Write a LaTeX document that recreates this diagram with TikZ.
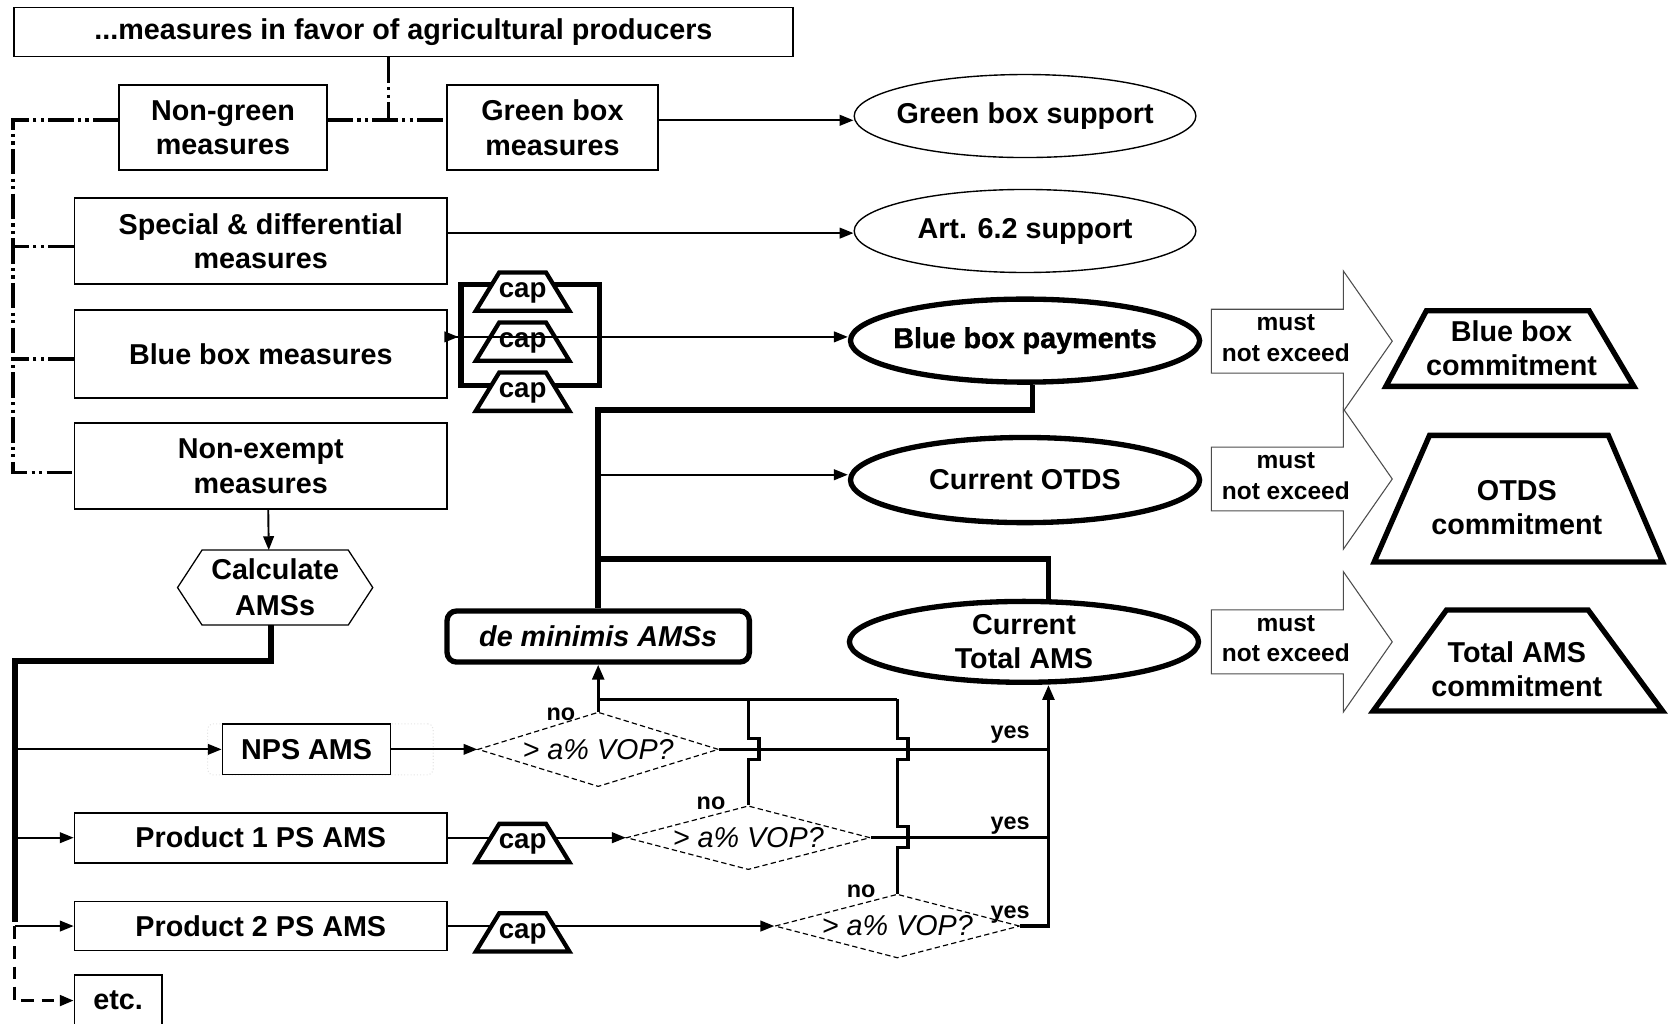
\documentclass[tikz,border=0pt]{standalone}
\usepackage{fontspec}
\setmainfont{Liberation Sans}
\newfontfamily\heavyfont{Liberation Sans}[BoldFeatures={FakeBold=1.3}]
\usetikzlibrary{shapes.geometric,arrows.meta,calc,backgrounds}
\newcommand{\fbig}{\fontsize{27pt}{32pt}\selectfont}
\newcommand{\fmid}{\fontsize{23pt}{29pt}\selectfont}
\newcommand{\fsml}{\fontsize{22pt}{26pt}\selectfont}
\newcommand{\capnode}[3]{%
  \filldraw[capline] (#2-44,#3+18) -- (#2-22,#3-18) -- (#2+22,#3-18) -- (#2+44,#3+18) -- cycle;
  \node[capbox] (#1) at (#2,#3+1) {cap};}
\begin{document}
\begin{tikzpicture}[x=1pt,y=-1pt,
  box/.style={draw, line width=1.6pt, align=center, font=\bfseries\fbig, inner sep=0pt},
  oval/.style={ellipse, draw, line width=1.3pt, align=center, font=\bfseries\fbig, inner xsep=-20pt, inner ysep=-8pt},
  boldoval/.style={oval, line width=5pt},
  capline/.style={draw, fill=white, line width=4pt, line join=miter},
  capbox/.style={rectangle, minimum width=88pt, minimum height=36pt, inner sep=0pt, font=\bfseries\fontsize{26pt}{26pt}\selectfont},
  dia/.style={diamond, draw, dash pattern=on 5pt off 3pt, line width=1.1pt, aspect=3.6, inner sep=0pt, font=\itshape\fbig},
  arr/.style={line width=1.8pt, -{Triangle[length=13pt,width=10pt]}},
  med/.style={line width=3pt},
  medarr/.style={med, -{Triangle[length=14pt,width=11pt]}},
  heavy/.style={line width=5.5pt},
  ddd/.style={line width=3.5pt, dash pattern=on 24pt off 4pt on 3pt off 4pt on 3pt off 4pt},
  lbl/.style={font=\bfseries\fsml, inner sep=0pt},
  blk/.style={draw=black!70, line width=1pt},
  commit/.style={draw, line width=5pt},
  ctext/.style={font=\bfseries\fbig, align=center, inner sep=0pt},
  mne/.pic={\draw[blk] (-62,-30) -- (62,-30) -- (62,-66) -- (108,0) -- (62,66) -- (62,30) -- (-62,30) -- cycle;
            \node[font=\bfseries\fmid, align=center, inner sep=0pt] (-t) at (8,-3) {must\\not exceed};}
]
\useasboundingbox (0,0) rectangle (1568,962);

% ---------- top part ----------
\node[box, minimum width=732pt, minimum height=46pt] (top) at (379,30) {...measures in favor of agricultural producers};
\node[box, minimum width=195pt, minimum height=80pt] (ng) at (209.5,120) {Non-green\\measures};
\node[box, minimum width=198pt, minimum height=80pt] (gb) at (519,120) {Green box\\measures};
\node[box, minimum width=350pt, minimum height=81pt] (sd) at (245,226.5) {Special \& differential\\measures};
\node[box, minimum width=350pt, minimum height=83pt] (bb) at (245,332.5) {Blue box measures};
\node[box, minimum width=350pt, minimum height=81pt] (ne) at (245,438) {Non-exempt\\measures};

\node[oval, minimum width=321pt, minimum height=78pt] (gbs) at (963,109) {Green box support};
\node[oval, minimum width=321pt, minimum height=78pt] (art) at (963,217) {Art. 6.2 support};
\node[boldoval, minimum width=328pt, minimum height=78pt, font=\heavyfont\bfseries\fbig] (bbp) at (963,320) {Blue box payments};
\node[boldoval, minimum width=328pt, minimum height=80pt] (otds) at (963,451) {Current OTDS};
\node[boldoval, minimum width=328pt, minimum height=76pt] (ctams) at (962,603) {Current\\Total AMS};

\node[box, line width=5pt, rounded corners=9pt, minimum width=284pt, minimum height=48pt, font=\bfseries\itshape\fbig] (dm) at (562,598) {de minimis AMSs};

% hexagon
\node[ctext, minimum width=183pt, minimum height=70pt, font=\bfseries\fontsize{27pt}{34pt}\selectfont] (hex) at (258.5,552) {Calculate\\AMSs};
\draw[line width=1.2pt] (hex.west) -- ([xshift=23pt]hex.north west) -- ([xshift=-23pt]hex.north east) -- (hex.east) -- ([xshift=-23pt]hex.south east) -- ([xshift=23pt]hex.south west) -- cycle;

% cap frame and caps
\node[draw, line width=5pt, minimum width=130pt, minimum height=95pt, inner sep=0pt] (cf) at (498,314.5) {};
\capnode{c1}{491}{274}
\capnode{c2}{491}{321}
\capnode{c3}{491}{368}

% dash-dot-dot tree
\coordinate (jn) at (365,113);
\coordinate (lb) at (12,444);
\draw[ddd] (top.south -| jn) -- (jn);
\draw[ddd] ([yshift=7pt]ng.east) -- ([yshift=7pt]gb.west);
\draw[ddd] ([yshift=7pt]ng.west) -| (lb) -- ([yshift=-6pt]ne.west);
\draw[ddd] ([yshift=-5pt]sd.west) -- ++(-58,0);
\draw[ddd] ([yshift=-5pt]bb.west) -- ++(-58,0);

% arrows to ovals
\coordinate (ge) at ([yshift=7pt]gb.east);
\draw[arr] (ge) -- (ge -| gbs.west);
\coordinate (se) at ([yshift=7.5pt]sd.east);
\draw[arr] (se) -- (se -| art.west);
\coordinate (be) at ([yshift=16pt]bb.east);
\draw[arr] (be) -- (be -| bbp.west);
\draw[arr] (be) -- (be -| cf.west);

% heavy connectors
\coordinate (bs) at ([xshift=7pt]bbp.south);
\draw[heavy] (bs) -- ++(0,24) -| (dm.north);
\coordinate (ow) at ([yshift=5pt]otds.west);
\draw[arr] (dm.north |- ow) -- (ow);
\coordinate (hj) at ([yshift=46pt]dm.north);
\coordinate (ct) at ([xshift=23pt]ctams.north);
\coordinate (cb) at ([xshift=23pt]ctams.south);
\draw[heavy] (hj) -| (ct);

% ---------- bottom part ----------
\draw[arr] ([xshift=7pt]ne.south) -- ([xshift=-6pt]hex.north);

\node[draw=black!10, dotted, rounded corners=5pt, line width=1pt, minimum width=212pt, minimum height=48pt] (npsg) at (301,704) {};
\node[box, fill=white, minimum width=158pt, minimum height=47pt] (nps) at (288,704) {NPS AMS};
\node[box, minimum width=350pt, minimum height=47pt] (p1) at (245,787) {Product 1 PS AMS};
\node[box, minimum width=350pt, minimum height=46pt] (p2) at (245,870) {Product 2 PS AMS};
\node[box, minimum width=82pt, minimum height=48pt] (etc) at (111,940) {etc.};

\node[dia, minimum width=226pt, minimum height=70pt] (d1) at (562,704) {> a\% VOP?};
\node[dia, minimum width=229pt, minimum height=60pt] (d2) at (703,787) {> a\% VOP?};
\node[dia, minimum width=230pt, minimum height=60pt] (d3) at (843,870) {> a\% VOP?};

\capnode{c4}{491}{792}
\capnode{c5}{491}{876}

\begin{pgfonlayer}{background}
\draw[line width=1.8pt] (p1.east) -- (p1.east -| c4.center);
\draw[arr] (p1.east -| c4.center) -- (p1.east -| d2.west);
\draw[line width=1.8pt] (p2.east) -- (p2.east -| c5.center);
\draw[arr] (p2.east -| c5.center) -- (p2.east -| d3.west);
\end{pgfonlayer}

\coordinate (hx) at ([xshift=-4pt]hex.south);
\coordinate (lv) at (14,866);
\draw[heavy] (hx) -- ++(0,34) -| (lv);
\draw[arr] (lv |- nps.west) -- (nps.west);
\draw[arr] (lv |- p1.west) -- (p1.west);
\draw[arr] (lv |- p2.west) -- (p2.west);
\draw[arr, line width=2.8pt, dash pattern=on 12pt off 7pt] (lv |- p2.west) -- (lv |- etc.west) -- (etc.west);

\draw[arr] (nps.east) -- (d1.west);

% decision connectors
\coordinate (hb) at (0,657);
\draw[medarr] (d1.north) -- (dm.south);
\draw[med] (d1.north |- hb) -- (d3.north |- hb);
\draw[med] (d2.north) -- ++(0,-43) -- ++(10,0) -- ++(0,-20) -- ++(-10,0) -- (d2.north |- hb);
\draw[med] (d3.north) -- ++(0,-43) -- ++(10,0) -- ++(0,-20) -- ++(-10,0) -- ++(0,-63) -- ++(10,0) -- ++(0,-20) -- ++(-10,0) -- (d3.north |- hb);
\draw[med] (d1.east) -- (d1.east -| cb);
\draw[med] (d2.east) -- (d2.east -| cb);
\draw[medarr] (d3.east) -| (cb);

\node[lbl] (no1) at (527,671) {no};
\node[lbl] (no2) at (668,755) {no};
\node[lbl] (no3) at (809,837) {no};
\node[lbl] (y1) at (949,690) {yes};
\node[lbl] (y2) at (949,776) {yes};
\node[lbl] (y3) at (949,859) {yes};

% ---------- right side ----------
\pic (a1) at (1200,320.5) {mne};
\pic (a2) at (1200,450) {mne};
\pic (a3) at (1200,603) {mne};

\draw[commit] (1340,292) -- (1493,292) -- (1535,363) -- (1302,363) -- cycle;
\node[ctext] (bbc) at (1420,327) {Blue box\\commitment};
\draw[commit] (1343,409) -- (1511,409) -- (1562,528) -- (1291,528) -- cycle;
\node[ctext] (otdsc) at (1425,477) {OTDS\\commitment};
\draw[commit] (1359,573) -- (1492,573) -- (1562,668) -- (1290,668) -- cycle;
\node[ctext] (tamsc) at (1425,629) {Total AMS\\commitment};
\end{tikzpicture}
\end{document}
